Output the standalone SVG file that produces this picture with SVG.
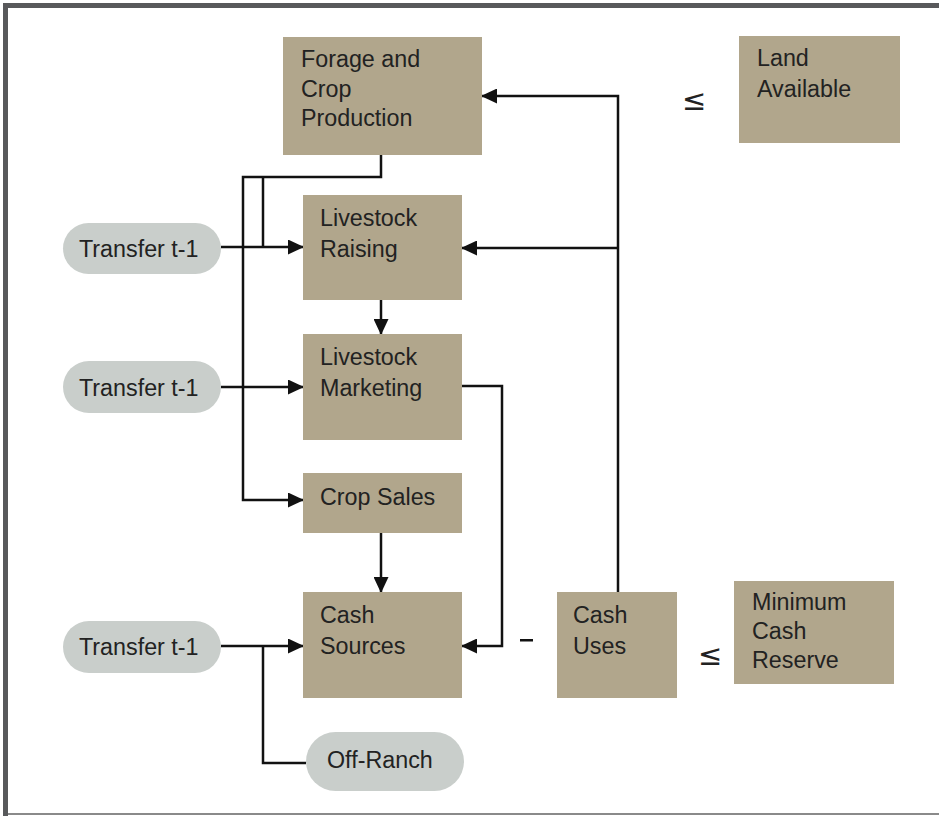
<svg xmlns="http://www.w3.org/2000/svg" width="939" height="816" viewBox="0 0 939 816">
<defs>
<marker id="ah" markerUnits="userSpaceOnUse" markerWidth="17" markerHeight="15" refX="15" refY="7.5" orient="auto">
<path d="M0,0 L16,7.5 L0,15 z" fill="#111"/>
</marker>
<style>
.box{fill:#b1a68c;}
.pill{fill:#c9cecb;}
.t{font-family:"Liberation Sans",Arial,sans-serif;font-size:23.3px;fill:#222;}
.leq{font-family:"DejaVu Sans",sans-serif;font-size:29px;fill:#222;}
.c{fill:none;stroke:#111;stroke-width:2.5;}
.a{marker-end:url(#ah);}
</style>
</defs>
<rect width="939" height="816" fill="#fff"/>
<g id="frame">
<rect x="3" y="3" width="936" height="5" fill="#58595b"/>
<rect x="3" y="3" width="5" height="813" fill="#58595b"/>
<rect x="8" y="813" width="931" height="2" fill="#8a8a8a"/>
</g>
<g id="connectors">
<path class="c a" d="M381,155 V177 H243 V500 H303"/>
<path class="c" d="M263,177 V247"/>
<path class="c a" d="M221,247 H303"/>
<path class="c a" d="M221,387 H303"/>
<path class="c a" d="M381,300 V334"/>
<path class="c a" d="M462,386 H502 V646 H462"/>
<path class="c a" d="M381,533 V592"/>
<path class="c a" d="M221,646 H303"/>
<path class="c" d="M306,763 H263 V646"/>
<path class="c a" d="M618,592 V96 H482"/>
<path class="c a" d="M618,248 H462"/>
</g>
<g id="forage">
<rect class="box" x="283" y="37" width="199" height="118"/>
<text class="t" x="301" y="67">Forage and</text>
<text class="t" x="301" y="97">Crop</text>
<text class="t" x="301" y="126">Production</text>
</g>
<g id="land">
<rect class="box" x="739" y="36" width="161" height="107"/>
<text class="t" x="757" y="66">Land</text>
<text class="t" x="757" y="97">Available</text>
</g>
<g id="leq1"><text class="leq" x="682" y="110">≤</text></g>
<g id="raising">
<rect class="box" x="303" y="195" width="159" height="105"/>
<text class="t" x="320" y="226">Livestock</text>
<text class="t" x="320" y="257">Raising</text>
</g>
<g id="transfer1">
<rect class="pill" x="63" y="223" width="158" height="51" rx="25.5"/>
<text class="t" x="79" y="257">Transfer t-1</text>
</g>
<g id="marketing">
<rect class="box" x="303" y="334" width="159" height="106"/>
<text class="t" x="320" y="365">Livestock</text>
<text class="t" x="320" y="396">Marketing</text>
</g>
<g id="transfer2">
<rect class="pill" x="63" y="361" width="158" height="52" rx="26"/>
<text class="t" x="79" y="396">Transfer t-1</text>
</g>
<g id="cropsales">
<rect class="box" x="303" y="473" width="159" height="60"/>
<text class="t" x="320" y="505">Crop Sales</text>
</g>
<g id="cashsources">
<rect class="box" x="303" y="592" width="159" height="106"/>
<text class="t" x="320" y="623">Cash</text>
<text class="t" x="320" y="654">Sources</text>
</g>
<g id="transfer3">
<rect class="pill" x="63" y="621" width="158" height="52" rx="26"/>
<text class="t" x="79" y="655">Transfer t-1</text>
</g>
<g id="offranch">
<rect class="pill" x="306" y="732" width="158" height="59" rx="29.5"/>
<text class="t" x="327" y="768">Off-Ranch</text>
</g>
<g id="minus"><rect x="520" y="639" width="13" height="2.5" fill="#111"/></g>
<g id="cashuses">
<rect class="box" x="557" y="592" width="120" height="106"/>
<text class="t" x="573" y="623">Cash</text>
<text class="t" x="573" y="654">Uses</text>
</g>
<g id="leq2"><text class="leq" x="698" y="665">≤</text></g>
<g id="minreserve">
<rect class="box" x="734" y="581" width="160" height="103"/>
<text class="t" x="752" y="610">Minimum</text>
<text class="t" x="752" y="639">Cash</text>
<text class="t" x="752" y="668">Reserve</text>
</g>
</svg>
